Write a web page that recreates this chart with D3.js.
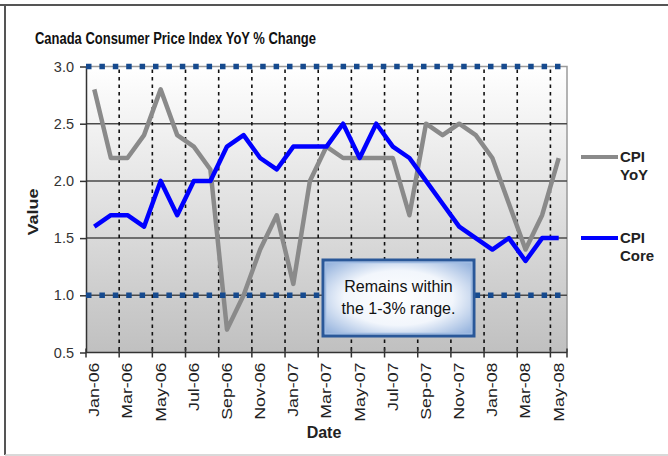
<!DOCTYPE html>
<html>
<head>
<meta charset="utf-8">
<script src="https://cdn.jsdelivr.net/npm/d3@7"></script>
<style>
  body { margin: 0; background: #fff; }
  text { font-family: Arial, "Liberation Sans", sans-serif; }
</style>
</head>
<body>
<div id="chart"></div>
<script>
var months = ["Jan-06", "Feb-06", "Mar-06", "Apr-06", "May-06", "Jun-06", "Jul-06", "Aug-06",
    "Sep-06", "Oct-06", "Nov-06", "Dec-06", "Jan-07", "Feb-07", "Mar-07", "Apr-07", "May-07",
    "Jun-07", "Jul-07", "Aug-07", "Sep-07", "Oct-07", "Nov-07", "Dec-07", "Jan-08", "Feb-08",
    "Mar-08", "Apr-08", "May-08"];

var cpiYoY = [2.8, 2.2, 2.2, 2.4, 2.8, 2.4, 2.3, 2.1, 0.7, 1.0, 1.4, 1.7, 1.1, 2.0, 2.3,
    2.2, 2.2, 2.2, 2.2, 1.7, 2.5, 2.4, 2.5, 2.4, 2.2, 1.8, 1.4, 1.7, 2.2];

var cpiCore = [1.6, 1.7, 1.7, 1.6, 2.0, 1.7, 2.0, 2.0, 2.3, 2.4, 2.2, 2.1, 2.3, 2.3, 2.3,
    2.5, 2.2, 2.5, 2.3, 2.2, 2.0, 1.8, 1.6, 1.5, 1.4, 1.5, 1.3, 1.5, 1.5];

var targetBand = [1.0, 3.0];
var yTicks = [0.5, 1.0, 1.5, 2.0, 2.5, 3.0];

var width = 668, height = 456;
var plotLeft = 86, plotRight = 567, plotTop = 66.5, plotBottom = 352.5;

var svg = d3.select("#chart")
    .append("svg")
    .attr("width", width)
    .attr("height", height);

var defs = svg.append("defs");
var bg = defs.append("linearGradient")
    .attr("id", "plotbg")
    .attr("x1", 0).attr("y1", 0).attr("x2", 0).attr("y2", 1);
bg.append("stop").attr("offset", "0%").attr("stop-color", "#ffffff");
bg.append("stop").attr("offset", "100%").attr("stop-color", "#c0c0c0");

var boxbg = defs.append("radialGradient")
    .attr("id", "boxbg")
    .attr("cx", "50%").attr("cy", "50%").attr("r", "72%");
boxbg.append("stop").attr("offset", "0%").attr("stop-color", "#ffffff");
boxbg.append("stop").attr("offset", "50%").attr("stop-color", "#f2f6fc");
boxbg.append("stop").attr("offset", "100%").attr("stop-color", "#7fa3d6");

// outer frame
svg.append("line").attr("x1", 0).attr("x2", width).attr("y1", 5).attr("y2", 5)
    .attr("stroke", "#555").attr("stroke-width", 2);
svg.append("line").attr("x1", 5).attr("x2", 5).attr("y1", 5).attr("y2", 455)
    .attr("stroke", "#555").attr("stroke-width", 2);
svg.append("line").attr("x1", 5).attr("x2", width).attr("y1", 455).attr("y2", 455)
    .attr("stroke", "#ccc").attr("stroke-width", 1.5);

// title
svg.append("text")
    .attr("x", 35)
    .attr("y", 44)
    .attr("font-size", 16)
    .attr("font-weight", "bold")
    .attr("fill", "#111")
    .attr("textLength", 281)
    .attr("lengthAdjust", "spacingAndGlyphs")
    .text("Canada Consumer Price Index YoY % Change");

var x = d3.scaleBand()
    .domain(months)
    .range([plotLeft, plotRight])
    .padding(0);

var y = d3.scaleLinear()
    .domain([0.5, 3.0])
    .range([plotBottom, plotTop]);

var cx = function (i) { return x(months[i]) + x.bandwidth() / 2; };

// plot area
svg.append("rect")
    .attr("x", plotLeft)
    .attr("y", y(3.0))
    .attr("width", plotRight - plotLeft)
    .attr("height", y(0.5) - y(3.0))
    .attr("fill", "url(#plotbg)");

svg.append("path")
    .attr("d", "M" + plotLeft + "," + y(3.0) + "H" + plotRight + "V" + y(0.5))
    .attr("fill", "none")
    .attr("stroke", "#9a9a9a")
    .attr("stroke-width", 1.5);

// horizontal grid
svg.selectAll(".hgrid")
    .data(yTicks.filter(function (d) { return d > 0.5 && d < 3.0; }))
    .enter()
    .append("line")
    .attr("class", "hgrid")
    .attr("x1", plotLeft).attr("x2", plotRight)
    .attr("y1", function (d) { return y(d); })
    .attr("y2", function (d) { return y(d); })
    .attr("stroke", "#4a4a4a")
    .attr("stroke-width", 1.5);

// vertical dashed grid, every second month boundary
var tickMonths = months.filter(function (d, i) { return i % 2 === 0; });
svg.selectAll(".vgrid")
    .data(tickMonths.slice(1))
    .enter()
    .append("line")
    .attr("class", "vgrid")
    .attr("x1", function (d) { return x(d); })
    .attr("x2", function (d) { return x(d); })
    .attr("y1", y(3.0) + 3).attr("y2", y(0.5))
    .attr("stroke", "#111")
    .attr("stroke-width", 1.6)
    .attr("stroke-dasharray", "3.5,4");

// Y axis
var yAxis = svg.append("g")
    .attr("transform", "translate(" + plotLeft + ",0)")
    .call(d3.axisLeft(y).tickValues(yTicks).tickFormat(d3.format(".1f"))
        .tickSize(6).tickSizeOuter(0).tickPadding(6));
yAxis.select(".domain").attr("stroke", "#333").attr("stroke-width", 1.5);
yAxis.selectAll(".tick line").attr("stroke", "#333").attr("stroke-width", 1.5);
yAxis.selectAll(".tick text")
    .attr("font-size", 14.5)
    .attr("fill", "#333")
    .attr("font-family", "Arial, 'Liberation Sans', sans-serif");

svg.append("text")
    .attr("transform", "translate(38,212) scale(1,1.2) rotate(-90)")
    .attr("text-anchor", "middle")
    .attr("font-size", 15)
    .attr("font-weight", "bold")
    .attr("fill", "#222")
    .text("Value");

// X axis
svg.append("line")
    .attr("x1", plotLeft).attr("x2", plotRight)
    .attr("y1", plotBottom).attr("y2", plotBottom)
    .attr("stroke", "#333").attr("stroke-width", 1.5);

svg.selectAll(".xtick")
    .data(tickMonths.map(function (d) { return x(d); }).concat([plotRight]))
    .enter()
    .append("line")
    .attr("class", "xtick")
    .attr("x1", function (d) { return d; })
    .attr("x2", function (d) { return d; })
    .attr("y1", plotBottom - 4).attr("y2", plotBottom + 5)
    .attr("stroke", "#333").attr("stroke-width", 1.5);

svg.selectAll(".xlabel")
    .data(tickMonths)
    .enter()
    .append("text")
    .attr("class", "xlabel")
    .attr("transform", function (d) {
        return "translate(" + (x(d) + x.bandwidth() / 2) + "," + (plotBottom + 10) + ") scale(1,1.27) rotate(-90)";
    })
    .attr("dy", "0.35em")
    .attr("text-anchor", "end")
    .attr("font-size", 14)
    .attr("fill", "#222")
    .text(function (d) { return d; });

svg.append("text")
    .attr("x", 324)
    .attr("y", 438)
    .attr("text-anchor", "middle")
    .attr("font-size", 16)
    .attr("font-weight", "bold")
    .attr("fill", "#222")
    .text("Date");

// series
var line = d3.line()
    .x(function (d, i) { return cx(i); })
    .y(function (d) { return y(d); });

svg.append("path")
    .datum(cpiYoY)
    .attr("fill", "none")
    .attr("stroke", "#8a8a8a")
    .attr("stroke-width", 4.5)
    .attr("stroke-linejoin", "round")
    .attr("d", line);

svg.append("path")
    .datum(cpiCore)
    .attr("fill", "none")
    .attr("stroke", "#0000ff")
    .attr("stroke-width", 4.5)
    .attr("stroke-linejoin", "round")
    .attr("d", line);

// 1-3% band limits
svg.selectAll(".band")
    .data(targetBand)
    .enter()
    .append("line")
    .attr("class", "band")
    .attr("x1", plotLeft).attr("x2", plotRight)
    .attr("y1", function (d) { return y(d); })
    .attr("y2", function (d) { return y(d); })
    .attr("stroke", "#164a8e")
    .attr("stroke-width", 5.5)
    .attr("stroke-dasharray", "5.5,7.9");

// annotation box
var box = svg.append("g");
box.append("rect")
    .attr("x", 323).attr("y", 260)
    .attr("width", 151).attr("height", 76)
    .attr("fill", "url(#boxbg)")
    .attr("stroke", "#2a5899")
    .attr("stroke-width", 3);
box.append("rect")
    .attr("x", 325.5).attr("y", 262.5)
    .attr("width", 146).attr("height", 71)
    .attr("fill", "none")
    .attr("stroke", "#9fbbe2")
    .attr("stroke-width", 1.5);
box.append("text")
    .attr("x", 398.5).attr("y", 292)
    .attr("text-anchor", "middle")
    .attr("font-size", 16)
    .attr("fill", "#111")
    .text("Remains within");
box.append("text")
    .attr("x", 398.5).attr("y", 314)
    .attr("text-anchor", "middle")
    .attr("font-size", 16)
    .attr("fill", "#111")
    .text("the 1-3% range.");

// legend
var legend = [
    { name: ["CPI", "YoY"], color: "#8a8a8a", y: 157 },
    { name: ["CPI", "Core"], color: "#0000ff", y: 238 }
];
var lg = svg.selectAll(".legend")
    .data(legend)
    .enter()
    .append("g")
    .attr("class", "legend");
lg.append("line")
    .attr("x1", 581).attr("x2", 618)
    .attr("y1", function (d) { return d.y; })
    .attr("y2", function (d) { return d.y; })
    .attr("stroke", function (d) { return d.color; })
    .attr("stroke-width", 4);
lg.append("text")
    .attr("x", 620)
    .attr("y", function (d) { return d.y + 5; })
    .attr("font-size", 15)
    .attr("font-weight", "bold")
    .attr("fill", "#222")
    .text(function (d) { return d.name[0]; });
lg.append("text")
    .attr("x", 620)
    .attr("y", function (d) { return d.y + 23; })
    .attr("font-size", 15)
    .attr("font-weight", "bold")
    .attr("fill", "#222")
    .text(function (d) { return d.name[1]; });
</script>
</body>
</html>
